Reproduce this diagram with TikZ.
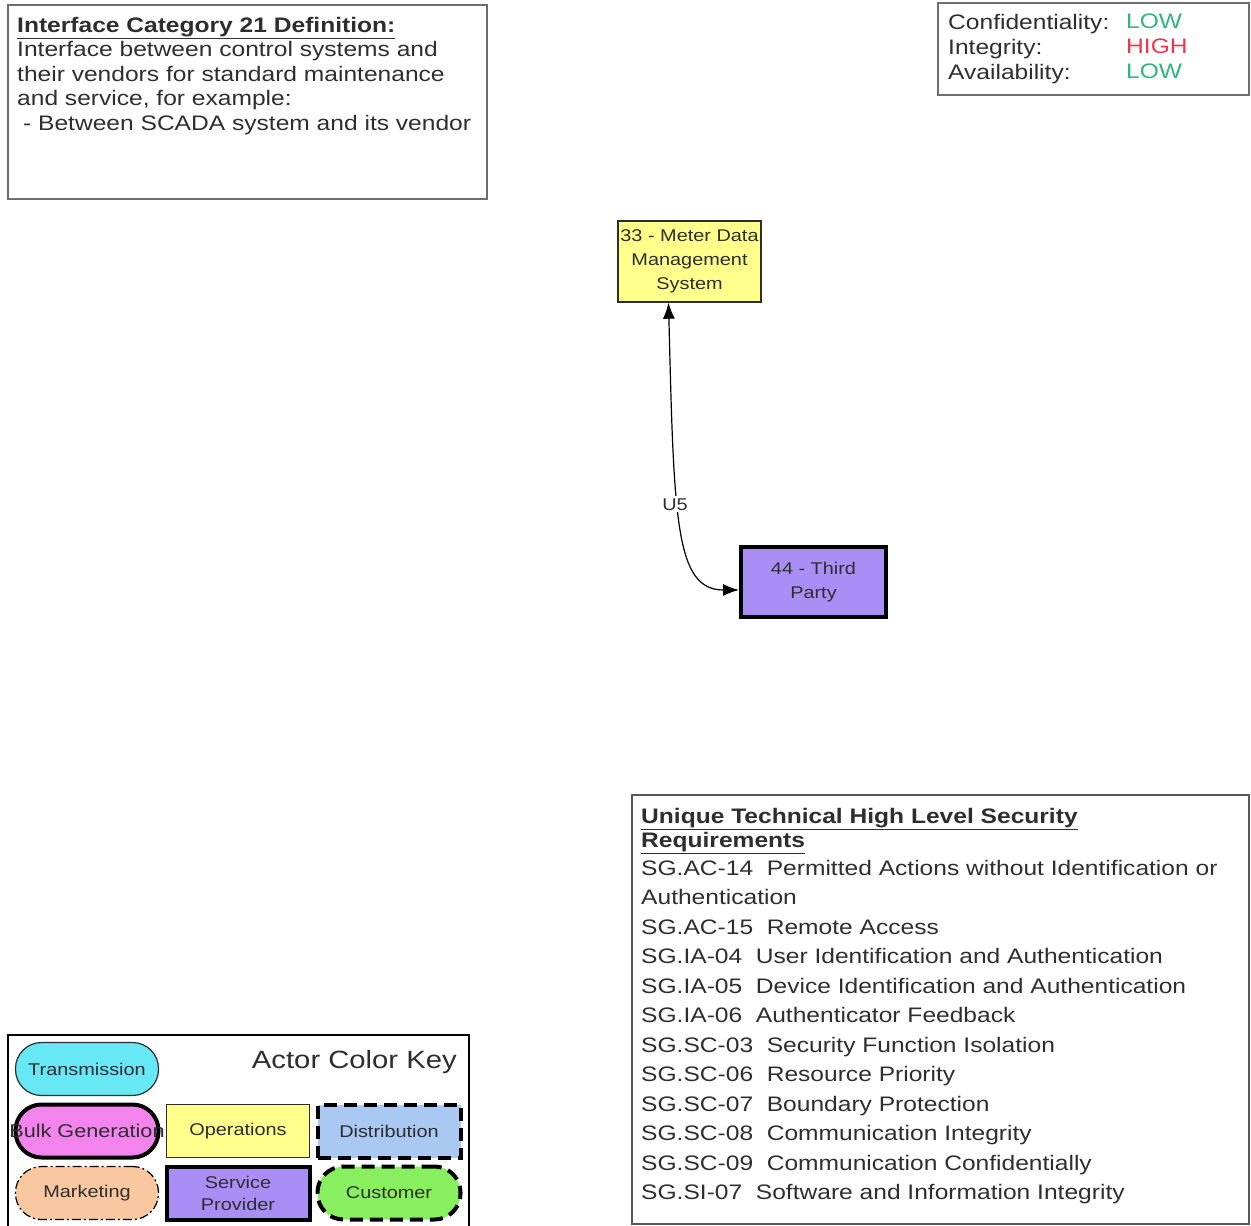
\documentclass[tikz,border=0pt]{standalone}
\usepackage{fontspec}
\setmainfont{Liberation Sans}[FakeStretch=1.17]
\usepackage{xcolor}
\usepackage{tikz}
\usetikzlibrary{arrows.meta,positioning}
\definecolor{framegray}{HTML}{6E6E6E}
\definecolor{inkgray}{HTML}{2E2E2E}
\definecolor{lowgreen}{HTML}{2EB67D}
\definecolor{highred}{HTML}{F0344A}
\definecolor{transcyan}{HTML}{66E8F5}
\definecolor{bulkpink}{HTML}{F384EE}
\definecolor{opyellow}{HTML}{FFFF8C}
\definecolor{distblue}{HTML}{A9C8F2}
\definecolor{mktpeach}{HTML}{F9C8A0}
\definecolor{provpurple}{HTML}{A98EF5}
\definecolor{custgreen}{HTML}{88F060}

\begin{document}
\begin{tikzpicture}[x=1pt, y=-1pt,
  frame/.style={draw=framegray, line width=1.6pt, inner sep=0pt, outer sep=0pt, anchor=north west},
  txt/.style={inner sep=0pt, anchor=north west, align=left, text=inkgray},
  system/.style={draw=inkgray, line width=1.4pt, inner sep=0pt, align=center, text=inkgray, font=\fontsize{17}{24}\selectfont},
  actor/.style={minimum width=143pt, minimum height=53pt, inner sep=0pt, outer sep=0pt, align=center, text=inkgray, font=\fontsize{17}{22}\selectfont},
  pill/.style={actor, rounded corners=26pt},
  thinline/.style={draw=inkgray, line width=1.2pt},
  heavyline/.style={draw=black, line width=4pt},
  dashline/.style={heavyline, dash pattern=on 13pt off 7pt},
  dotline/.style={draw=black, line width=1.2pt, dash pattern=on 9pt off 3pt on 2pt off 3pt},
  link/.style={{Latex[length=16pt,width=12pt]}-{Latex[length=16pt,width=12pt]}, line width=1.2pt, draw=black},
  node distance=9pt and 8pt
]
  \useasboundingbox (0,0) rectangle (1251,1226);

  % definition box
  \node[frame, minimum width=479pt, minimum height=194pt] (defbox) at (8,5) {};
  \node[txt, font=\fontsize{21}{24.5}\selectfont] (deftext) at (17,17)
    {\textbf{\underline{Interface Category 21 Definition:}}\\
     Interface between control systems and\\
     their vendors for standard maintenance\\
     and service, for example:\\
     \hspace*{6pt}- Between SCADA system and its vendor};

  % CIA levels
  \node[frame, minimum width=311pt, minimum height=92pt] (ciabox) at (938,3) {};
  \node[txt, font=\fontsize{21}{25}\selectfont] (cialabels) at (948,14)
    {Confidentiality:\\Integrity:\\Availability:};
  \node[txt, font=\fontsize{21}{25}\selectfont] (ciavalues) at (1126,14)
    {\textcolor{lowgreen}{LOW}\\\textcolor{highred}{HIGH}\\\textcolor{lowgreen}{LOW}};

  % actors
  \node[system, fill=opyellow, minimum width=143pt, minimum height=81pt] (n33) at (689.5,261.5)
    {33 - Meter Data\\Management\\System};
  \node[system, fill=provpurple, draw=black, line width=4pt, minimum width=145pt, minimum height=70pt] (n44) at (813.5,582)
    {44 - Third\\Party};
  \draw[link] ([xshift=-21pt]n33.south) .. controls (674,520) and (675,590) .. ([yshift=-8pt]n44.west)
    node[pos=0.42, xshift=-3pt, fill=white, inner sep=2pt, text=inkgray, font=\fontsize{17}{20}\selectfont] (u5) {U5};

  % requirements
  \node[frame, draw=framegray!80!black, minimum width=617pt, minimum height=429pt] (reqbox) at (632,795) {};
  \node[txt, font=\fontsize{21}{24}\selectfont\bfseries] (reqtitle) at (641,808)
    {\underline{Unique Technical High Level Security}\\\underline{Requirements}};
  \node[txt, font=\fontsize{21}{29.5}\selectfont, below=6pt of reqtitle.south west, anchor=north west] (reqlist)
    {SG.AC-14\ \ Permitted Actions without Identification or\\
     Authentication\\
     SG.AC-15\ \ Remote Access\\
     SG.IA-04\ \ User Identification and Authentication\\
     SG.IA-05\ \ Device Identification and Authentication\\
     SG.IA-06\ \ Authenticator Feedback\\
     SG.SC-03\ \ Security Function Isolation\\
     SG.SC-06\ \ Resource Priority\\
     SG.SC-07\ \ Boundary Protection\\
     SG.SC-08\ \ Communication Integrity\\
     SG.SC-09\ \ Communication Confidentially\\
     SG.SI-07\ \ Software and Information Integrity};

  % actor color key
  \node[frame, draw=black, line width=1.4pt, minimum width=461pt, minimum height=196pt] (keybox) at (8,1035) {};
  \node[inner sep=0pt, anchor=east, text=inkgray, font=\fontsize{25}{28}\selectfont] (keytitle) at (457,1062) {Actor Color Key};
  \node[pill, thinline, fill=transcyan] (trans) at (87,1069) {Transmission};
  \node[pill, heavyline, fill=bulkpink, below=of trans, font=\fontsize{18.5}{22}\selectfont] (bulk) {\makebox[143pt][c]{Bulk Generation}};
  \node[actor, thinline, fill=opyellow, right=of bulk] (ops) {Operations};
  \node[actor, dashline, fill=distblue, right=of ops] (dist) {Distribution};
  \node[pill, dotline, fill=mktpeach, below=of bulk] (mkt) {Marketing};
  \node[actor, heavyline, fill=provpurple, below=of ops] (prov) {Service\\Provider};
  \node[pill, dashline, fill=custgreen, below=of dist] (cust) {Customer};
\end{tikzpicture}
\end{document}
